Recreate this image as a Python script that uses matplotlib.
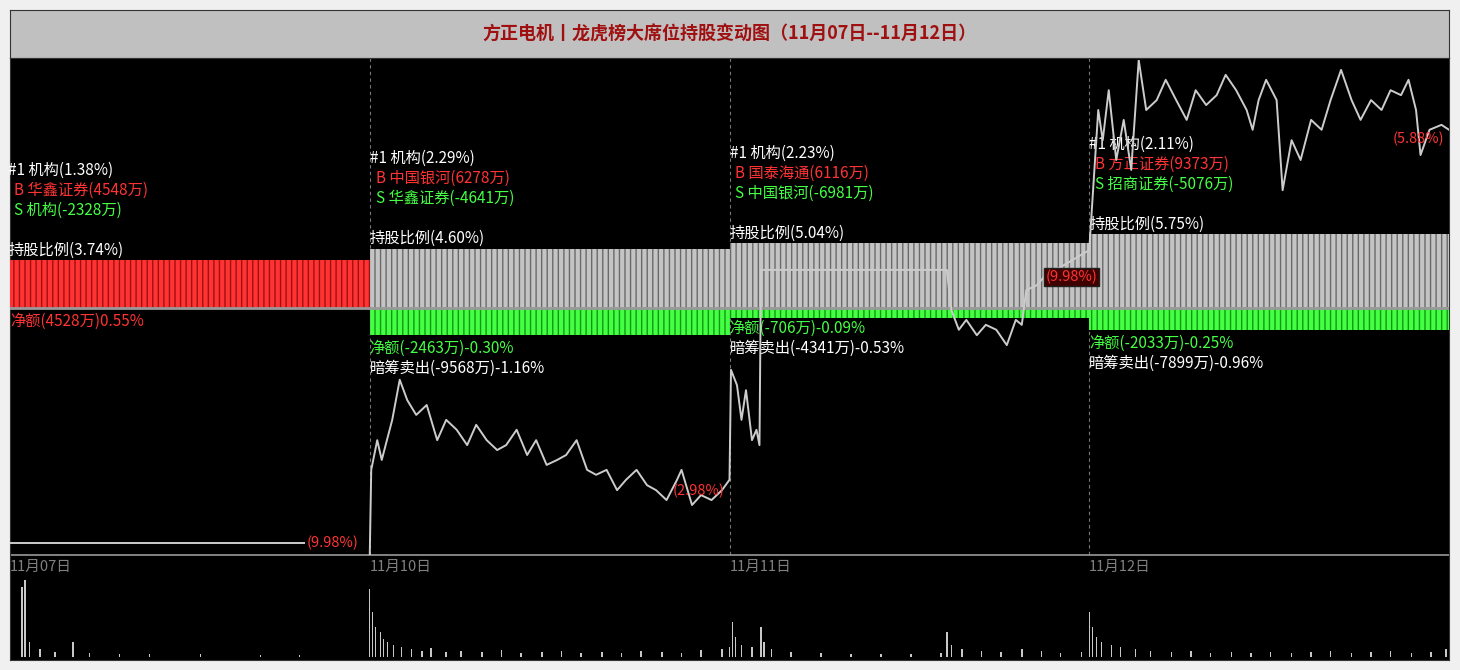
import matplotlib
matplotlib.use("Agg")
import matplotlib.pyplot as plt

plt.rcParams['font.family'] = ['Noto Sans CJK SC', 'DejaVu Sans']
plt.rcParams['hatch.linewidth'] = 1.0

W, H = 1460, 670
title = "方正电机丨龙虎榜大席位持股变动图（11月07日--11月12日）"
days = ["11月07日", "11月10日", "11月11日", "11月12日"]

# price series: (minute in day 0..240, level 0..100 of price panel)
price_day1 = [(0, 2.4), (197, 2.4)]
price_day2 = [(0,0),(1,17.2),(5,23.2),(8,19.2),(15,27.3),(20,35.4),(25,31.3),(31,28.3),(38,30.3),(45,23.2),
              (51,27.3),(58,25.3),(65,22.2),(71,26.3),(78,23.2),(85,21.2),(91,22.2),(98,25.3),(105,20.2),
              (111,23.2),(118,18.2),(125,19.2),(131,20.2),(138,23.2),(145,17.2),(151,16.2),(158,17.2),
              (165,13.1),(171,15.2),(178,17.2),(185,14.1),(191,13.1),(198,11.1),(205,15.2),(208,17.2),
              (215,10.1),(221,12.1),(228,11.1),(235,13.1),(240,15.2)]
price_day3 = [(0,15.2),(1,37.4),(5,34.3),(8,27.3),(11,33.3),(15,23.2),(18,25.3),(20,22.2),(21,57.6),
              (145,57.6),(148,49.5),(153,45.5),(158,47.5),(165,44.4),(171,46.5),(178,45.5),(185,42.4),
              (191,47.5),(195,46.5),(198,53.5),(205,54.5),(210,56.2)]
price_day4 = [(0,61.6),(3,75.8),(6,89.9),(9,83.8),(13,93.9),(18,79.8),(23,87.9),(28,77.8),(33,100),
              (38,89.9),(45,91.9),(51,96),(58,91.9),(65,87.9),(71,93.9),(78,90.9),(85,92.9),(91,97),
              (98,93.9),(105,89.9),(109,85.9),(113,91.9),(118,96),(125,91.9),(129,73.7),(135,83.8),
              (141,79.8),(148,87.9),(155,85.9),(161,91.9),(168,98),(175,91.9),(181,87.9),(188,91.9),
              (195,89.9),(201,93.9),(208,92.9),(213,96),(218,89.9),(221,80.8),(227,85.9),(235,86.9),(240,85.9)]
prices = [price_day1, price_day2, price_day3, price_day4]
close_labels = ["(9.98%)", "(2.98%)", "(9.98%)", "(5.88%)"]

vol_day1 = [(8,70),(10,77),(13,15),(20,8),(30,5),(42,15),(53,4),(73,3),(93,3),(127,3),(167,2),(193,2)]
vol_day2 = [(0,68),(2,45),(4,30),(7,25),(9,18),(12,15),(16,12),(21,10),(28,8),(35,6),(41,9),(51,5),(61,6),
            (75,5),(88,7),(101,4),(115,5),(128,6),(141,4),(155,5),(168,4),(181,6),(195,5),(208,4),(221,7),(235,8)]
vol_day3 = [(0,10),(2,35),(4,20),(8,12),(15,10),(21,30),(23,15),(28,8),(41,5),(61,4),(81,3),(101,3),(121,3),
            (141,4),(145,25),(148,12),(155,8),(168,6),(181,5),(195,8),(208,6),(221,4),(235,5)]
vol_day4 = [(0,45),(2,30),(5,20),(8,15),(15,12),(21,10),(31,8),(41,6),(55,5),(68,6),(81,4),(95,5),(108,4),
            (121,5),(135,4),(148,5),(161,6),(175,4),(188,5),(201,6),(215,4),(228,5),(238,8)]
vols = [vol_day1, vol_day2, vol_day3, vol_day4]

top_seat = ["#1 机构(1.38%)", "#1 机构(2.29%)", "#1 机构(2.23%)", "#1 机构(2.11%)"]
buy_seat = ["B 华鑫证券(4548万)", "B 中国银河(6278万)", "B 国泰海通(6116万)", "B 方正证券(9373万)"]
sell_seat = ["S 机构(-2328万)", "S 华鑫证券(-4641万)", "S 中国银河(-6981万)", "S 招商证券(-5076万)"]
hold_pct = [3.74, 4.60, 5.04, 5.75]
net_text = ["净额(4528万)0.55%", "净额(-2463万)-0.30%", "净额(-706万)-0.09%", "净额(-2033万)-0.25%"]
net_bar = [0, -2.1, -0.75, -1.7]
dark_text = [None, "暗筹卖出(-9568万)-1.16%", "暗筹卖出(-4341万)-0.53%", "暗筹卖出(-7899万)-0.96%"]

RED, GREEN, WHITE = "#ff3333", "#44ff44", "#ffffff"
FS = 11

fig = plt.figure(figsize=(W/100, H/100), dpi=100, facecolor="#f0f0f0")

def rect(x0, y0, x1, y1):
    return [x0/W, 1-y1/H, (x1-x0)/W, (y1-y0)/H]

# title bar
tax = fig.add_axes(rect(10, 10, 1449, 58))
tax.set_facecolor("#c0c0c0"); tax.set_xticks([]); tax.set_yticks([])
for s in tax.spines.values(): s.set_color("#333333")
tax.text(0.5, 0.5, title, ha="center", va="center", color="#a01010", fontsize=13, fontweight="bold",
         transform=tax.transAxes)

# main background
ax = fig.add_axes(rect(10, 58, 1449, 660))
ax.set_facecolor("black"); ax.set_xlim(0, 4); ax.set_ylim(660, 58)
ax.set_xticks([]); ax.set_yticks([])
for s in ax.spines.values(): s.set_color("#333333")
for d in range(1, 4):
    ax.plot([d, d], [58, 555], color="#777777", lw=0.8, ls=(0, (3, 3)))
ax.plot([0, 4], [555, 555], color="#999999", lw=1.2)
for i, d in enumerate(days):
    ax.text(i, 567, d, color="#808080", fontsize=FS - 0.5, va="center", ha="left")

# holdings bars
hax = fig.add_axes(rect(10, 200, 1449, 400))
hax.set_xlim(0, 4); hax.set_ylim(-(92/12.8), 108/12.8); hax.axis("off")
for i, v in enumerate(hold_pct):
    if i == 0:
        fc, ec = RED, "#a01010"
    else:
        fc, ec = "#c4c4c4", "#6a6a6a"
    hax.bar(i, v, width=1, align="edge", color=fc, edgecolor=ec, hatch="|||", lw=0)
    if net_bar[i] < 0:
        hax.bar(i, net_bar[i], width=1, align="edge", color="#44ff44", edgecolor="#119911", hatch="|||", lw=0)
hax.axhline(0, color="#999999", lw=2)

# text overlay
txa = fig.add_axes(rect(10, 58, 1449, 660))
txa.set_xlim(0, 4); txa.set_ylim(660, 58); txa.axis("off")
tops = [170, 158, 153, 144]
for i in range(4):
    x = i - (0.005 if i == 0 else 0)
    y = tops[i]
    txa.text(x, y, top_seat[i], color=WHITE, fontsize=FS, va="center")
    txa.text(x + 0.016, y + 20, buy_seat[i], color=RED, fontsize=FS, va="center")
    txa.text(x + 0.016, y + 40, sell_seat[i], color=GREEN, fontsize=FS, va="center")
    txa.text(x, y + 80, f"持股比例({hold_pct[i]:.2f}%)", color=WHITE, fontsize=FS, va="center")
net_y = [321, 348, 328, 343]
for i in range(4):
    txa.text(i, net_y[i], net_text[i], color=RED if i == 0 else GREEN, fontsize=FS, va="center")
    if dark_text[i]:
        txa.text(i, net_y[i] + 20, dark_text[i], color=WHITE, fontsize=FS, va="center")

# price line
pax = fig.add_axes(rect(10, 60, 1449, 555))
pax.set_xlim(0, 4); pax.set_ylim(0, 100); pax.axis("off")
xs_all, ys_all = [], []
for i, series in enumerate(prices):
    xs_all += [i + m/240 for m, _ in series]
    ys_all += [v for _, v in series]
pax.plot(xs_all[:2], ys_all[:2], color="#cccccc", lw=1.4, zorder=5)
pax.plot(xs_all[2:], ys_all[2:], color="#cccccc", lw=1.4, zorder=5)
lab_box = [dict(fc="black", ec="none", pad=1), None, dict(fc="#400000", ec="#202020", pad=1), None]
for i, series in enumerate(prices):
    m, v = series[-1]
    x = i + m/240
    if i == 3:
        x, v = 3.84, 84
    elif i == 1:
        x, v = 1.84, 13
    pax.text(x + 0.003, v, close_labels[i], color=RED, fontsize=FS - 0.5, va="center", ha="left",
             bbox=lab_box[i], zorder=6)

# volume
vax = fig.add_axes(rect(10, 575, 1449, 657))
vax.set_xlim(0, 4); vax.set_ylim(0, 82); vax.axis("off")
for i, series in enumerate(vols):
    vax.bar([i + m/240 for m, _ in series], [v for _, v in series], width=0.004, color="#c8c8c8")

fig.savefig("out.png", dpi=100, facecolor=fig.get_facecolor())
